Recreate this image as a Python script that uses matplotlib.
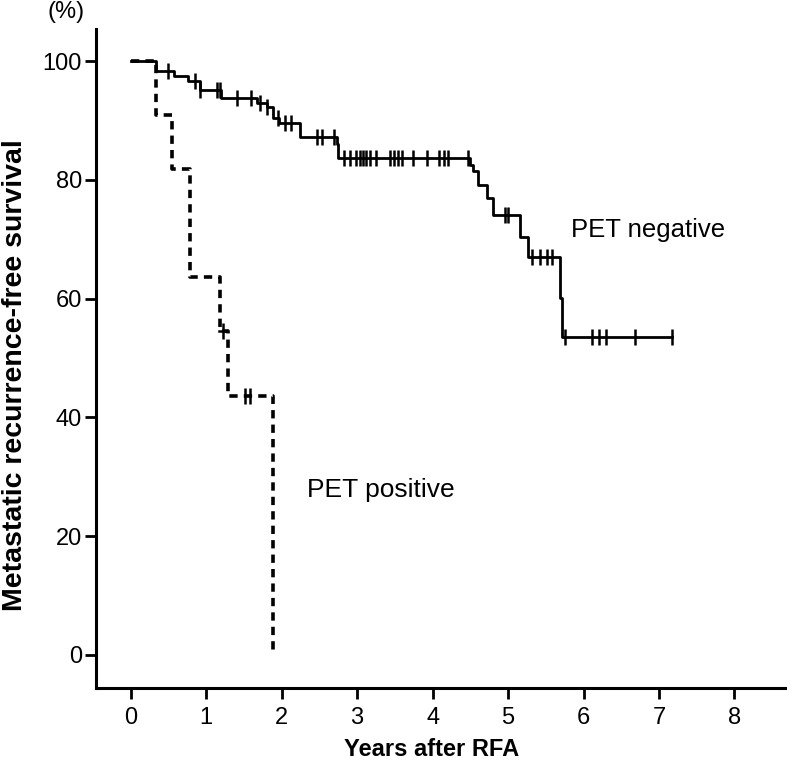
import numpy as np
import matplotlib
matplotlib.use('Agg')
import matplotlib.pyplot as plt

plt.rcParams['font.family'] = ['Liberation Sans', 'DejaVu Sans']

# PET negative: step points (years, %), drawn as post steps
neg_t = [0, 0.34, 0.58, 0.76, 0.92, 1.20, 1.67, 1.80, 1.88, 1.97, 2.24, 2.73, 2.75,
         4.50, 4.53, 4.60, 4.72, 4.80, 5.16, 5.27, 5.69, 5.72, 7.17]
neg_s = [100, 98.4, 97.4, 96.7, 95.2, 93.8, 93.0, 92.3, 90.4, 89.5, 87.2, 86.0, 83.7,
         82.5, 81.4, 79.1, 76.9, 74.1, 70.4, 67.0, 60.1, 53.5, 53.5]
neg_cens = [0.49, 0.85, 0.92, 1.14, 1.18, 1.41, 1.60, 1.71, 1.80, 1.95, 2.04, 2.13,
            2.47, 2.53, 2.69, 2.82, 2.90, 2.98, 3.04, 3.08, 3.12, 3.17, 3.25, 3.43,
            3.49, 3.54, 3.59, 3.74, 3.93, 4.08, 4.15, 4.20, 4.47, 4.96, 5.00, 5.32,
            5.42, 5.52, 5.58, 5.76, 6.11, 6.20, 6.30, 6.68, 7.17]

# PET positive
pos_t = [0, 0.33, 0.55, 0.78, 1.18, 1.29, 1.88, 1.88]
pos_s = [100, 90.9, 81.8, 63.6, 54.5, 43.6, 43.6, 0]
pos_cens = [1.22, 1.51, 1.58]

x_ticks = [0, 1, 2, 3, 4, 5, 6, 7, 8]
y_ticks = [0, 20, 40, 60, 80, 100]


def level_at(times, surv, t):
    i = np.searchsorted(times, t, side='right') - 1
    return surv[i]


fig = plt.figure(figsize=(7.87, 7.68), dpi=100)
ax = fig.add_axes([96 / 787, 80 / 768, 689 / 787, 659 / 768])

ax.step(neg_t, neg_s, where='post', color='black', lw=2)
ax.plot(neg_cens, [level_at(neg_t, neg_s, t) for t in neg_cens], ls='none',
        marker='|', ms=12, mew=1.8, color='black')

ax.step(pos_t, pos_s, where='post', color='black', lw=2.6, ls=(0, (2.3, 1.7)))
ax.plot(pos_cens, [level_at(pos_t[:-1], pos_s[:-1], t) for t in pos_cens], ls='none',
        marker='|', ms=12, mew=1.8, color='black')
ax.plot([pos_cens[0] - 0.05, pos_cens[0] + 0.05], [54.5, 54.5], color='black', lw=1.8)

ax.text(5.83, 71.5, 'PET negative', fontsize=18.5, va='center', ha='left')
ax.text(2.33, 27.8, 'PET positive', fontsize=19, va='center', ha='left')

ax.set_xlim(-0.46, 8.67)
ax.set_ylim(-5.6, 105.4)
ax.set_xticks(x_ticks)
ax.set_yticks(y_ticks)
ax.tick_params(axis='both', labelsize=17, width=2, length=8, direction='out')
ax.tick_params(axis='y', pad=2)
ax.tick_params(axis='x', pad=6)
for side in ['top', 'right']:
    ax.spines[side].set_visible(False)
for side in ['left', 'bottom']:
    ax.spines[side].set_linewidth(2.2)

fig.text(2 / 787, 1 - 375 / 768, 'Metastatic recurrence-free survival', rotation=90,
         fontsize=20.5, fontweight='bold', ha='left', va='center')
fig.text(432 / 787, 1 - 750 / 768, 'Years after RFA', fontsize=17, fontweight='bold',
         ha='center', va='center')
fig.text(66 / 787, 1 - 12 / 768, '(%)', fontsize=17, ha='center', va='center')

plt.savefig('out.png', dpi=100)
